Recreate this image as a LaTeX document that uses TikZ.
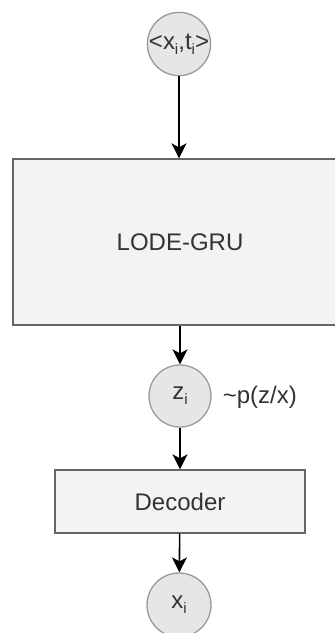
\documentclass[tikz,border=0pt]{standalone}
\usepackage{xcolor}
\usepackage{fontspec}
\setmainfont{Liberation Sans}
\usepackage{tikz}
\usetikzlibrary{arrows.meta}
\definecolor{gru_fill}{HTML}{F3F3F3}
\definecolor{var_fill}{HTML}{E6E6E6}
\definecolor{gru_line}{HTML}{666666}
\definecolor{var_line}{HTML}{999999}
\definecolor{gru_text}{HTML}{333333}
\newcommand{\gsub}[1]{\raisebox{-5pt}{\fontsize{15}{15}\selectfont #1}}
\tikzstyle{gru_box} = [rectangle, draw=gru_line, fill=gru_fill, text=gru_text, line width=1.3pt, inner sep=0pt, font=\fontsize{24}{28}\selectfont]
\tikzstyle{gru_var} = [circle, draw=var_line, fill=var_fill, text=gru_text, line width=1.3pt, inner sep=0pt, minimum size=62pt, font=\fontsize{24}{28}\selectfont]
\tikzstyle{gru_lbl} = [text=gru_text, inner sep=0pt, anchor=west, font=\fontsize{24}{28}\selectfont]

\begin{document}
\begin{tikzpicture}[->,>={Stealth[length=15pt,width=15pt,inset=4pt]},x=1pt,y=-1pt,line width=1.6pt]
\useasboundingbox (0,0) rectangle (335,633);
% encoder input, encoder, latent state, decoder, reconstruction
\node [gru_var] (input) at (179,44) {<x\gsub{i},t\gsub{i}>};
\node [gru_box, minimum width=344pt, minimum height=166pt] (lode) at (185,242) {};
\node [text=gru_text, font=\fontsize{24}{28}\selectfont] (lodetxt) at (180,242) {LODE-GRU};
\node [gru_var] (latent) at (180,396) {z\gsub{i}};
\node [gru_lbl] (prior) at (222,397) {\textasciitilde p(z/x)};
\node [gru_box, minimum width=250pt, minimum height=63pt] (decoder) at (180,501.5) {Decoder};
\node [gru_var, minimum size=64pt] (output) at (179,605) {x\gsub{i}};
\draw (input) -- (input |- lode.north);
\draw (lodetxt |- lode.south) -- (latent);
\draw (latent) -- (decoder);
\draw (decoder) -- (output);
\end{tikzpicture}
\end{document}
